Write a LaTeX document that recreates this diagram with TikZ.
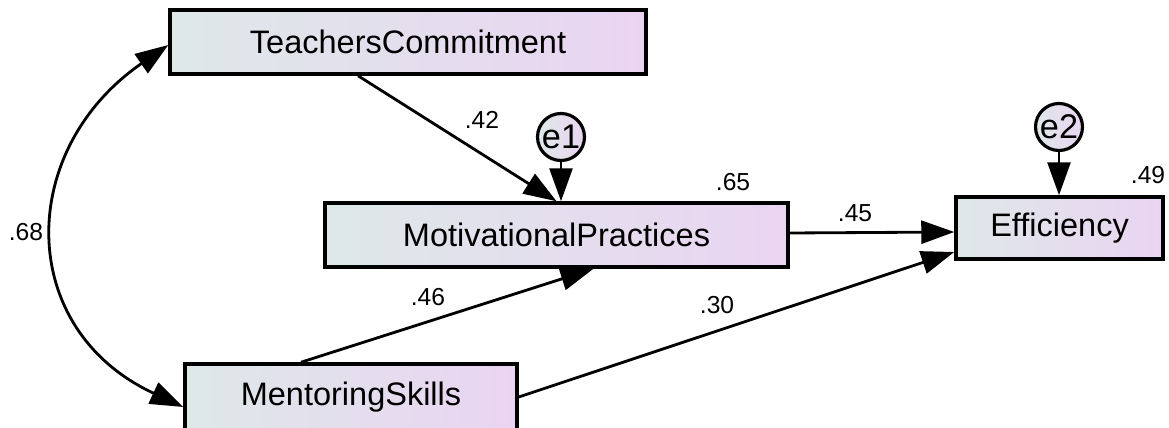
\documentclass[tikz,border=0pt]{standalone}
\usepackage{fontspec}
\setmainfont{Liberation Sans}
\usetikzlibrary{arrows.meta}
\definecolor{boxleft}{RGB}{222,232,233}
\definecolor{boxright}{RGB}{234,212,242}
\begin{document}
\begin{tikzpicture}[x=0.02cm, y=-0.02cm,
  obsbox/.style={draw, line width=2pt, left color=boxleft, right color=boxright, inner sep=0pt, font=\fontsize{18.5}{20}\selectfont},
  errcirc/.style={circle, draw, line width=1.8pt, left color=boxleft, right color=boxright, minimum size=0.94cm, inner sep=0pt, font=\fontsize{19.5}{20}\selectfont},
  regarrow/.style={line width=1.6pt, -{Triangle[length=0.66cm, width=0.46cm]}},
  corarrow/.style={line width=1.6pt, {Triangle[length=0.66cm, width=0.46cm]}-{Triangle[length=0.66cm, width=0.46cm]}},
  coef/.style={font=\fontsize{14}{16}\selectfont}]
  \useasboundingbox (0,0) rectangle (1169,428);
  \node[obsbox, minimum width=9.52cm, minimum height=1.28cm] (tc) at (408,42) {TeachersCommitment};
  \node[obsbox, minimum width=9.26cm, minimum height=1.28cm] (mp) at (556.5,235) {MotivationalPractices};
  \node[obsbox, minimum width=6.64cm, minimum height=1.32cm] (ms) at (351,397) {MentoringSkills};
  \node[obsbox, minimum width=4.14cm, minimum height=1.24cm] (eff) at (1059.5,228) {Efficiency};
  \node[errcirc] (e1) at (561,137) {e1};
  \node[errcirc] (e2) at (1059,127) {e2};
  \draw[regarrow] ([xshift=-1cm]tc.south) -- (mp.north);
  \draw[regarrow] (e1.south) -- (e1.south |- mp.north);
  \draw[regarrow] (e2.south) -- (e2.south |- eff.north);
  \draw[regarrow] ([yshift=0.04cm]mp.east) -- ([yshift=-0.08cm]eff.west);
  \draw[regarrow] ([xshift=-1cm]ms.north) -- ([xshift=0.74cm]mp.south);
  \draw[regarrow] (ms.east) -- ([yshift=-0.48cm]eff.west);
  \draw[corarrow] ([yshift=-0.06cm]tc.west) .. controls +(-152,105) and +(-168,-78) .. ([yshift=-0.2cm]ms.west);
  \node[coef] (c42) at (482,120) {.42};
  \node[coef] (c65) at (733,182) {.65};
  \node[coef] (c45) at (855,213) {.45};
  \node[coef] (c49) at (1148,175) {.49};
  \node[coef] (c46) at (428,297) {.46};
  \node[coef] (c30) at (717,305) {.30};
  \node[coef] (c68) at (26,232) {.68};
\end{tikzpicture}
\end{document}
